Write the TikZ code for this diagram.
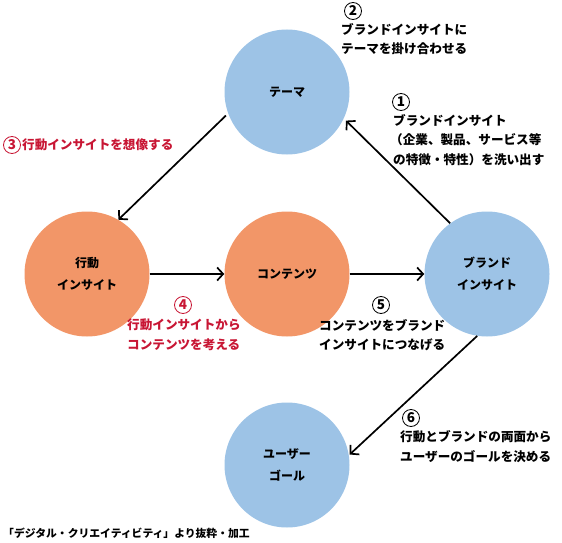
\documentclass[tikz,border=0pt]{standalone}
\usepackage{fontspec}
\setmainfont{Noto Sans CJK JP}
\usetikzlibrary{arrows.meta}
\definecolor{cblue}{RGB}{157,195,230}
\definecolor{corange}{RGB}{242,150,104}
\definecolor{cred}{RGB}{200,22,52}
\tikzset{
  bub/.style={circle, minimum size=125pt, inner sep=0pt, align=center,
    font=\bfseries\fontsize{12}{22}\selectfont},
  bblue/.style={bub, fill=cblue},
  borange/.style={bub, fill=corange},
  arr/.style={line width=1.7pt, -{Straight Barb[length=6pt,width=13pt]}},
  num/.style={circle, draw, line width=0.8pt, inner sep=0pt, minimum size=17pt,
    font=\bfseries\fontsize{13.5}{13.5}\selectfont},
  rnum/.style={num, draw=cred, text=cred},
  txt/.style={anchor=west, inner sep=0pt, font=\bfseries\fontsize{12.6}{14}\selectfont},
  rtxt/.style={txt, text=cred},
  foot/.style={anchor=west, inner sep=0pt, font=\bfseries\fontsize{10.8}{12}\selectfont}
}
\begin{document}
\begin{tikzpicture}[x=1pt,y=-1pt]
\useasboundingbox (0,0) rectangle (562,543);
% bubbles
\node[bblue] (theme) at (287,92) {テーマ};
\node[borange] (act) at (87,274) {行動\\インサイト};
\node[borange] (cont) at (287,274) {コンテンツ};
\node[bblue] (brand) at (487,274) {ブランド\\インサイト};
\node[bblue] (user) at (287,465) {ユーザー\\ゴール};
% arrows
\draw[arr, shorten >=3pt] (brand.126) -- (theme.-25);
\draw[arr, shorten <=3pt] (theme.200) -- (act.60);
\draw[arr] (act.east) -- (cont.west);
\draw[arr] (cont.east) -- (brand.west);
\draw[arr, shorten >=1pt] (brand.-99) -- (user.9);
% label 2
\node[num] (n2) at (353,11) {2};
\node[txt] (t2a) at (341,29) {ブランドインサイトに};
\node[txt] (t2b) at (341,49) {テーマを掛け合わせる};
% label 1
\node[num] (n1) at (401,102) {1};
\node[txt] (t1a) at (393,120) {ブランドインサイト};
\node[txt] (t1b) at (390,140) {（企業、製品、サービス等};
\node[txt] (t1c) at (393,160) {の特徴・特性）を洗い出す};
% label 3
\node[rnum] (n3) at (12,145) {3};
\node[rtxt] (t3) at (22,145) {行動インサイトを想像する};
% label 4
\node[rnum] (n4) at (183,305) {4};
\node[rtxt] (t4a) at (127,325) {行動インサイトから};
\node[rtxt] (t4b) at (127,345) {コンテンツを考える};
% label 5
\node[num] (n5) at (381,305) {5};
\node[txt] (t5a) at (319,325) {コンテンツをブランド};
\node[txt] (t5b) at (319,345) {インサイトにつなげる};
% label 6
\node[num] (n6) at (411,418) {6};
\node[txt] (t6a) at (400,437) {行動とブランドの両面から};
\node[txt] (t6b) at (400,457) {ユーザーのゴールを決める};
% footer
\node[foot] (src) at (3,533) {「デジタル・クリエイティビティ」より抜粋・加工};
\end{tikzpicture}
\end{document}
